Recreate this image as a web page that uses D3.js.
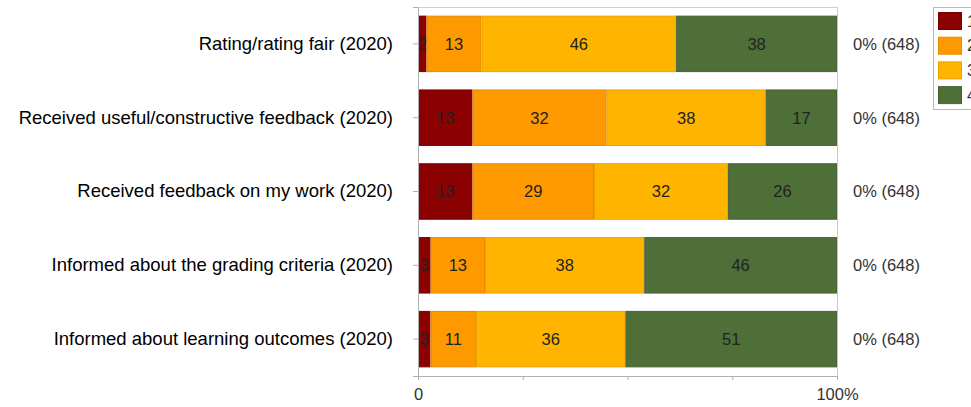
<!DOCTYPE html>
<html><head><meta charset="utf-8">
<script src="https://cdn.jsdelivr.net/npm/d3@7/dist/d3.min.js"></script>
<style>body{margin:0;background:#fff;overflow:hidden}svg{display:block}</style>
</head><body>
<script>
const categories = [
  "Rating/rating fair (2020)",
  "Received useful/constructive feedback (2020)",
  "Received feedback on my work (2020)",
  "Informed about the grading criteria (2020)",
  "Informed about learning outcomes (2020)"
];
const series = ["1", "2", "3", "4"];
const values1 = [2, 13, 13, 3, 3];
const values2 = [13, 32, 29, 13, 11];
const values3 = [46, 38, 32, 38, 36];
const values4 = [38, 17, 26, 46, 51];
const rightLabels = ["0% (648)", "0% (648)", "0% (648)", "0% (648)", "0% (648)"];
const xTicks = [0, 25, 50, 75, 100];
const xTickLabels = ["0", "", "", "", "100%"];
const colors = ["#8b0000", "#ff9900", "#ffb500", "#4f6f39"];
const strokes = ["#7a0000", "#e88a00", "#eaa400", "#466232"];

const W = 971, H = 407;
const m = {left: 418, right: 837, top: 7, bottom: 376};
const svg = d3.select("body").append("svg").attr("width", W).attr("height", H);

const x = d3.scaleLinear().domain([0, 100]).range([m.left, m.right]);
const y = d3.scaleBand().domain(categories).range([m.top, m.bottom]).paddingInner(0.235).paddingOuter(0.117);

const allVals = [values1, values2, values3, values4];
const rows = categories.map((c, i) => {
  const vals = allVals.map(a => a[i]);
  const tot = d3.sum(vals);
  let acc = 0;
  return vals.map((v, k) => {
    const s = {cat: c, k, v, x0: acc / tot * 100, x1: (acc + v) / tot * 100};
    acc += v;
    return s;
  });
}).flat();

// frame lines
svg.append("line").attr("x1", m.left).attr("x2", m.right).attr("y1", m.top + 0.5).attr("y2", m.top + 0.5).attr("stroke", "#d0d0d0");
svg.append("line").attr("x1", m.right + 0.5).attr("x2", m.right + 0.5).attr("y1", m.top).attr("y2", m.bottom).attr("stroke", "#c8c8c8");

// bars
svg.append("g").selectAll("rect").data(rows).join("rect")
  .attr("x", d => x(d.x0) + 0.5)
  .attr("y", d => y(d.cat) + 0.5)
  .attr("width", d => Math.max(0, x(d.x1) - x(d.x0) - 1))
  .attr("height", y.bandwidth() - 1)
  .attr("fill", d => colors[d.k])
  .attr("stroke", d => strokes[d.k])
  .attr("stroke-width", 1);

svg.append("g").selectAll("text").data(rows).join("text")
  .attr("x", d => (x(d.x0) + x(d.x1)) / 2)
  .attr("y", d => y(d.cat) + y.bandwidth() / 2)
  .attr("dy", "0.36em")
  .attr("text-anchor", "middle")
  .attr("font-family", "Liberation Sans, Arial, sans-serif")
  .attr("font-size", 16.5)
  .attr("fill", "#222")
  .text(d => d.v);

// left axis
const gy = svg.append("g").attr("transform", `translate(${m.left},0)`)
  .call(d3.axisLeft(y).tickSize(5).tickPadding(20));
gy.select(".domain").attr("stroke", "#b0b0b0");
gy.selectAll(".tick line").attr("stroke", "#b0b0b0");
gy.selectAll(".tick text").attr("font-family", "Liberation Sans, Arial, sans-serif").attr("font-size", 18.5).attr("fill", "#000");

// bottom axis
const gx = svg.append("g").attr("transform", `translate(0,${m.bottom})`)
  .call(d3.axisBottom(x).tickValues(xTicks).tickFormat((d, i) => xTickLabels[i]).tickSize(4).tickPadding(8));
gx.select(".domain").attr("stroke", "#b0b0b0");
gx.selectAll(".tick line").attr("stroke", "#b0b0b0");
gx.selectAll(".tick text").attr("font-family", "Liberation Sans, Arial, sans-serif").attr("font-size", 16.5).attr("fill", "#333");

// right labels
svg.append("g").selectAll("text").data(categories).join("text")
  .attr("x", 853)
  .attr("y", d => y(d) + y.bandwidth() / 2)
  .attr("dy", "0.36em")
  .attr("font-family", "Liberation Sans, Arial, sans-serif")
  .attr("font-size", 16.5)
  .attr("fill", "#333")
  .text((d, i) => rightLabels[i]);

// legend (clipped at the right edge, as in the reference)
const lg = svg.append("g");
lg.append("rect").attr("x", 933.5).attr("y", 7.5).attr("width", 60).attr("height", 102).attr("fill", "#fff").attr("stroke", "#b8b8b8");
series.forEach((s, i) => {
  lg.append("rect").attr("x", 938.5).attr("y", 12.5 + i * 24.7).attr("width", 23).attr("height", 17)
    .attr("fill", colors[i]).attr("stroke", strokes[i]);
  lg.append("text").attr("x", 967).attr("y", 21 + i * 24.7).attr("dy", "0.36em")
    .attr("font-family", "Liberation Sans, Arial, sans-serif").attr("font-size", 16).attr("fill", "#333").text(s);
});
</script>
</body></html>
